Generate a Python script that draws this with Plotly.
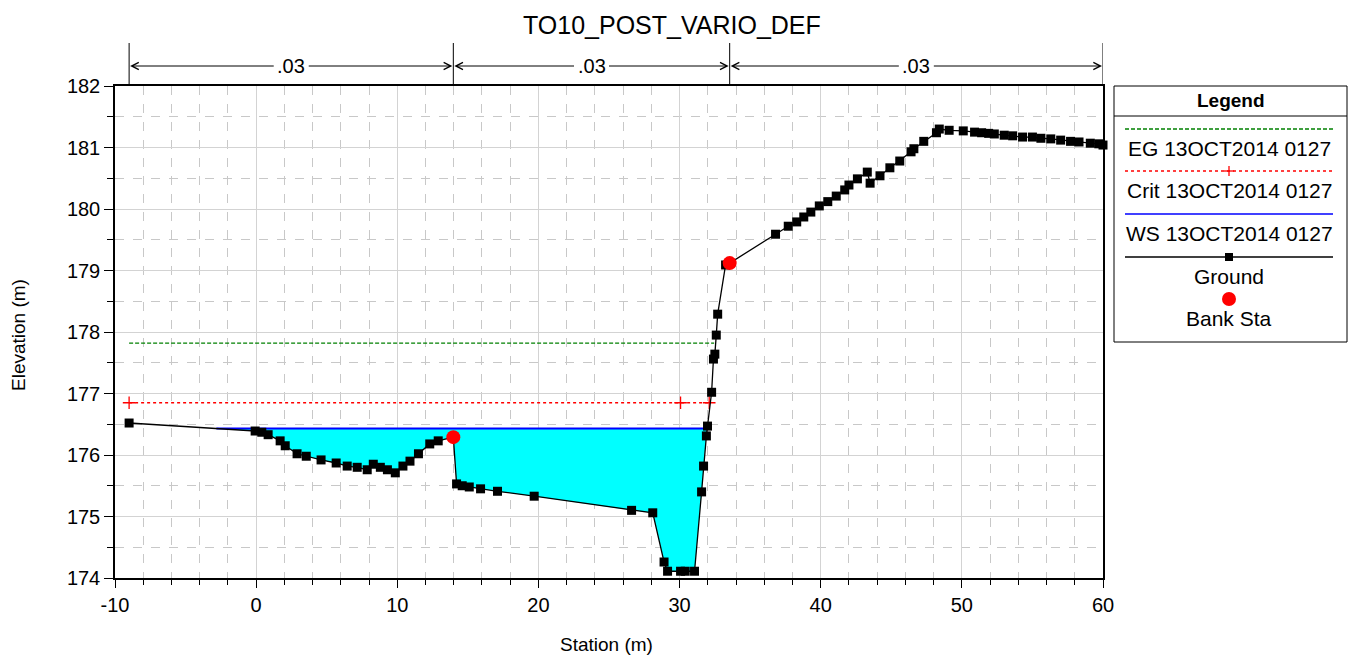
import plotly.graph_objects as go

# ---- data ----
ground_x = [-9.0, -0.07, 0.4, 0.85, 1.7, 2.06, 2.9, 3.55, 4.6, 5.67, 6.45, 7.16, 7.87, 8.3, 8.8,
            9.3, 9.86, 10.4, 10.9, 11.5, 12.3, 12.9, 13.97, 14.2, 14.6, 15.1, 15.9, 17.1, 19.7,
            26.6, 28.1, 28.9, 29.15, 30.07, 30.4, 31.06, 31.56, 31.7, 31.9, 31.98, 32.27, 32.4,
            32.5, 32.6, 32.7, 33.26, 33.55, 36.8, 37.7, 38.3, 38.8, 39.3, 39.9, 40.5, 41.1, 41.7,
            42.0, 42.6, 43.3, 43.5, 44.2, 44.9, 45.6, 46.4, 46.6, 47.3, 48.2, 48.4, 49.1, 50.1,
            50.9, 51.4, 51.9, 52.3, 53.0, 53.6, 54.3, 55.0, 55.6, 56.3, 57.0, 57.7, 58.3, 59.1,
            59.7, 60.0]
ground_y = [176.52, 176.39, 176.37, 176.33, 176.23, 176.15, 176.02, 175.98, 175.92, 175.87,
            175.82, 175.80, 175.76, 175.85, 175.80, 175.76, 175.71, 175.82, 175.90, 176.02,
            176.18, 176.23, 176.29, 175.53, 175.50, 175.48, 175.45, 175.41, 175.33, 175.10,
            175.06, 174.26, 174.11, 174.11, 174.11, 174.11, 175.40, 175.82, 176.31, 176.47,
            177.02, 177.56, 177.64, 177.95, 178.29, 179.09, 179.12, 179.59, 179.72, 179.79,
            179.87, 179.95, 180.05, 180.12, 180.21, 180.31, 180.39, 180.49, 180.60, 180.42,
            180.54, 180.67, 180.78, 180.93, 180.98, 181.10, 181.24, 181.30, 181.28, 181.27,
            181.25, 181.24, 181.23, 181.22, 181.20, 181.19, 181.17, 181.17, 181.15, 181.14,
            181.12, 181.10, 181.09, 181.07, 181.06, 181.04]
assert len(ground_x) == len(ground_y)

bank_x = [13.97, 33.55]
bank_y = [176.29, 179.12]

ws_elev = 176.43
eg_x = [-9.0, 32.45]
eg_elev = 177.82
crit_x = [-9.0, 30.07, 32.1]
crit_elev = 176.85

mann_bounds = [-9.0, 13.97, 33.55, 60.0]
mann_n = [".03", ".03", ".03"]

x_tickvals = [-10, 0, 10, 20, 30, 40, 50, 60]
x_ticktext = ["-10", "0", "10", "20", "30", "40", "50", "60"]

legend_labels = ["EG 13OCT2014 0127", "Crit 13OCT2014 0127", "WS 13OCT2014 0127", "Ground", "Bank Sta"]

FONT = "Liberation Sans, Arial, sans-serif"

# plot area in pixels (figure 1351 x 663)
L, R, T, B = 115, 1103, 86, 578
def px(p):
    return (p - L) / (R - L)
def py(p):
    return (B - p) / (B - T)

# ---- water surface fill (where ground lies below WS) ----
def cross(i):
    x0, y0, x1, y1 = ground_x[i], ground_y[i], ground_x[i + 1], ground_y[i + 1]
    return x0 + (ws_elev - y0) / (y1 - y0) * (x1 - x0)

fill_x, fill_y = [], []
ws_left = ws_right = None
for i in range(len(ground_x) - 1):
    if ground_y[i] >= ws_elev and ground_y[i + 1] < ws_elev and ws_left is None:
        ws_left = cross(i)
        fill_x.append(ws_left); fill_y.append(ws_elev)
        continue
    if ws_left is not None and ws_right is None and ground_y[i] < ws_elev:
        fill_x.append(ground_x[i]); fill_y.append(ground_y[i])
        if ground_y[i + 1] >= ws_elev:
            ws_right = cross(i)
            fill_x.append(ws_right); fill_y.append(ws_elev)

EG_DASH = "4px,2px"

fig = go.Figure()

fig.add_trace(go.Scatter(x=fill_x, y=fill_y, fill="toself", fillcolor="#00FFFF",
                         mode="none", hoverinfo="skip", name="WS fill"))
fig.add_trace(go.Scatter(x=eg_x, y=[eg_elev] * len(eg_x), mode="lines",
                         line=dict(color="#008000", width=1.3, dash=EG_DASH), name=legend_labels[0]))
fig.add_trace(go.Scatter(x=crit_x, y=[crit_elev] * len(crit_x), mode="lines+markers",
                         line=dict(color="#FF0000", width=1.3, dash="dot"),
                         marker=dict(symbol="cross-thin", size=9, line=dict(color="#FF0000", width=1.3)),
                         name=legend_labels[1]))
fig.add_trace(go.Scatter(x=[ws_left, ws_right], y=[ws_elev, ws_elev], mode="lines",
                         line=dict(color="#0000FF", width=2), name=legend_labels[2]))
fig.add_trace(go.Scatter(x=ground_x, y=ground_y, mode="lines+markers",
                         line=dict(color="black", width=1.3),
                         marker=dict(symbol="square", size=9, color="black"),
                         cliponaxis=False, name=legend_labels[3]))
fig.add_trace(go.Scatter(x=bank_x, y=bank_y, mode="markers",
                         marker=dict(symbol="circle", size=14, color="#FF0000"),
                         cliponaxis=False, name=legend_labels[4]))

shapes = []
annotations = []

def label(x, y, text, size, **kw):
    d = dict(x=x, y=y, xref="paper", yref="paper", showarrow=False, text=text,
             xanchor="center", yanchor="middle", font=dict(family=FONT, size=size, color="black"))
    d.update(kw)
    annotations.append(d)

# ---- Manning's n bar above the plot ----
y_top = py(43)
y_arrow = py(66)
for b in mann_bounds:
    shapes.append(dict(type="line", xref="x", yref="paper", x0=b, x1=b, y0=1.0, y1=y_top,
                       line=dict(color="black", width=1)))
for i, n in enumerate(mann_n):
    x0, x1 = mann_bounds[i], mann_bounds[i + 1]
    mid = (x0 + x1) / 2
    for end, col in ((x0, "black"), (x1, "rgba(0,0,0,0)")):
        annotations.append(dict(x=end, y=y_arrow, xref="x", yref="paper",
                                ax=mid, ay=0, axref="x", ayref="pixel",
                                text=n, showarrow=True, arrowhead=5, arrowsize=1.4,
                                arrowwidth=1, arrowcolor="black", standoff=1, startstandoff=2,
                                font=dict(family=FONT, size=20, color=col)))

# ---- custom legend box ----
lx0, lx1 = px(1114), px(1347)
shapes.append(dict(type="rect", xref="paper", yref="paper", x0=lx0, x1=lx1, y0=py(342), y1=py(86),
                   line=dict(color="black", width=1), fillcolor="white", layer="above"))
shapes.append(dict(type="line", xref="paper", yref="paper", x0=lx0, x1=lx1, y0=py(116), y1=py(116),
                   line=dict(color="black", width=1), layer="above"))
label((lx0 + lx1) / 2, py(100), "<b>Legend</b>", 19)
sx0, sx1 = px(1125), px(1333)
sxm = (sx0 + sx1) / 2
samples = [
    (129, dict(color="#008000", width=1.3, dash=EG_DASH)),
    (171, dict(color="#FF0000", width=1.3, dash="dot")),
    (214, dict(color="#0000FF", width=1.5)),
    (257, dict(color="black", width=1.3)),
]
for yy, ln in samples:
    shapes.append(dict(type="line", xref="paper", yref="paper", x0=sx0, x1=sx1, y0=py(yy), y1=py(yy),
                       line=ln, layer="above"))
# crit "+" marker
cxp = (1125 + 1333) / 2
shapes.append(dict(type="line", xref="paper", yref="paper", x0=px(cxp - 5), x1=px(cxp + 5),
                   y0=py(171), y1=py(171), line=dict(color="#FF0000", width=1.3), layer="above"))
shapes.append(dict(type="line", xref="paper", yref="paper", x0=px(cxp), x1=px(cxp),
                   y0=py(166), y1=py(176), line=dict(color="#FF0000", width=1.3), layer="above"))
# ground square
shapes.append(dict(type="rect", xref="paper", yref="paper", x0=px(cxp - 4), x1=px(cxp + 4),
                   y0=py(261), y1=py(253), fillcolor="black", line=dict(width=0), layer="above"))
# bank circle
shapes.append(dict(type="circle", xref="paper", yref="paper", x0=px(cxp - 7), x1=px(cxp + 7),
                   y0=py(306), y1=py(292), fillcolor="#FF0000", line=dict(width=0), layer="above"))
for yy, lab in zip([148, 190, 233, 276, 318], legend_labels):
    label(sxm, py(yy), lab, 21)

# ---- titles ----
label(px(672), py(25), "TO10_POST_VARIO_DEF", 25)
label(px(606), py(644), "Station (m)", 19)
label(px(18), py(335), "Elevation (m)", 19, textangle=-90)

fig.update_layout(
    width=1351, height=663,
    margin=dict(l=L, r=1351 - R, t=T, b=663 - B),
    paper_bgcolor="white", plot_bgcolor="white",
    showlegend=False,
    font=dict(family=FONT, size=20, color="black"),
    shapes=shapes, annotations=annotations,
)
fig.update_xaxes(range=[-10, 60], tickvals=x_tickvals, ticktext=x_ticktext,
                 showgrid=True, gridcolor="#d3d3d3", gridwidth=1,
                 ticks="outside", ticklen=8, tickcolor="black", showline=True, linecolor="black",
                 linewidth=1.5, mirror=True, zeroline=False,
                 minor=dict(dtick=2, tick0=0, showgrid=True, gridcolor="#c8c8c8", griddash="dash",
                            ticks="outside", ticklen=5, tickcolor="black"),
                 tickfont=dict(family=FONT, size=20))
fig.update_yaxes(range=[174, 182], dtick=1, showgrid=True, gridcolor="#d3d3d3", gridwidth=1,
                 ticks="outside", ticklen=9, tickcolor="black", showline=True, linecolor="black",
                 linewidth=1.5, mirror=True, zeroline=False,
                 minor=dict(dtick=0.5, showgrid=True, gridcolor="#c8c8c8", griddash="dash",
                            ticks="outside", ticklen=6, tickcolor="black"),
                 tickfont=dict(family=FONT, size=20))

# page body has a default margin; remove it so the figure sits at the window origin
fig.write_html("out.html", config={"displayModeBar": False},
               post_script="document.body.style.margin='0';")
